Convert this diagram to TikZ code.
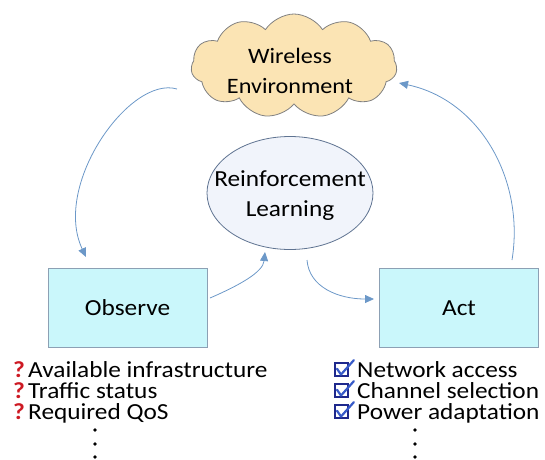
\documentclass[tikz,border=0pt]{standalone}
\usepackage{fontspec}
\setmainfont[FakeStretch=1.1]{Carlito}
\usetikzlibrary{shapes.geometric,shapes.symbols,arrows.meta}
\definecolor{cloudfill}{RGB}{251,228,180}
\definecolor{cloudline}{RGB}{128,128,128}
\definecolor{boxfill}{RGB}{202,247,251}
\definecolor{boxline}{RGB}{140,160,180}
\definecolor{ellfill}{RGB}{241,244,251}
\definecolor{ellline}{RGB}{95,115,145}
\definecolor{arrcol}{RGB}{108,152,200}
\definecolor{qred}{RGB}{205,25,35}
\definecolor{chkblue}{RGB}{30,40,140}
\definecolor{tickblue}{RGB}{55,90,200}
\tikzset{
  big/.style={font=\fontsize{23}{30}\selectfont},
  listtxt/.style={font=\fontsize{23}{21}\selectfont, anchor=base west, inner sep=0pt},
  stagebox/.style={draw=boxline, fill=boxfill, line width=0.8pt, minimum width=159pt, minimum height=79pt, big},
  flow/.style={draw=arrcol, line width=0.8pt, -{Triangle[length=9pt,width=8pt]}},
  qmark/.style={font=\bfseries\fontsize{23}{21}\selectfont, text=qred, anchor=base west, inner sep=0pt},
  chkbox/.style={draw=chkblue, fill=white, line width=1.8pt, minimum width=13pt, minimum height=13pt, inner sep=0pt, anchor=south west},
  tick/.style={draw=tickblue, line width=2.2pt, line cap=round, line join=round},
  dotmark/.style={fill=black, circle, inner sep=0pt, minimum size=3.6pt}
}
\begin{document}
\begin{tikzpicture}[x=1pt,y=-1pt]
\useasboundingbox (0,0) rectangle (545,459);
% cloud
\node[cloud, cloud puffs=11, cloud puff arc=115, aspect=2, draw=cloudline, fill=cloudfill, line width=0.8pt, minimum width=206pt, minimum height=104pt, inner sep=0pt] (env) at (294,66) {};
\node[font=\fontsize{22}{30}\selectfont, align=center] (envtxt) at (290,71) {Wireless\\Environment};
% ellipse
\node[ellipse, draw=ellline, fill=ellfill, line width=0.8pt, minimum width=166pt, minimum height=113pt, inner sep=0pt] (rl) at (290,193) {};
\node[big, align=center] (rltxt) at (290,196) {Reinforcement\\Learning};
% boxes
\node[stagebox] (obs) at (127.5,308) {Observe};
\node[stagebox] (act) at (459,308) {Act};
% connector ends
\coordinate (a1s) at (177,89);
\coordinate (a1e) at (86,257);
\coordinate (a2s) at (210,298);
\coordinate (a2e) at (265,252);
\coordinate (a3s) at (307,260);
\coordinate (a3e) at (374,299);
\coordinate (a4s) at (512,260);
\coordinate (a4e) at (399,83);
\draw[flow] (a1s) .. controls (130,75) and (52,185) .. (a1e);
\draw[flow] (a2s) .. controls (240,285) and (263,272) .. (a2e);
\draw[flow] (a3s) .. controls (309,287) and (338,299) .. (a3e);
\draw[flow] (a4s) .. controls (525,180) and (480,100) .. (a4e);
% left list
\node[qmark] (q1) at (13,377) {?};
\node[qmark] (q2) at (13,398) {?};
\node[qmark] (q3) at (13,419) {?};
\node[listtxt] (l1) at (28,377) {Available infrastructure};
\node[listtxt] (l2) at (28,398) {Traffic status};
\node[listtxt] (l3) at (28,419) {Required QoS};
\node[dotmark] (ld1) at (95,430) {};
\node[dotmark] (ld2) at (95,444) {};
\node[dotmark] (ld3) at (95,457) {};
% right list
\foreach \yy/\nm in {377/c1,398/c2,419/c3}{
  \node[chkbox] (\nm) at (334,\yy) {};
  \draw[tick] ([xshift=3pt,yshift=-6.5pt]\nm.north west) -- ([xshift=7pt,yshift=2.5pt]\nm.south west) -- ([xshift=5pt,yshift=2pt]\nm.north east);
}
\node[listtxt] (r1) at (357,377) {Network access};
\node[listtxt] (r2) at (357,398) {Channel selection};
\node[listtxt] (r3) at (357,419) {Power adaptation};
\node[dotmark] (rd1) at (415,430) {};
\node[dotmark] (rd2) at (415,444) {};
\node[dotmark] (rd3) at (415,457) {};
\end{tikzpicture}
\end{document}
